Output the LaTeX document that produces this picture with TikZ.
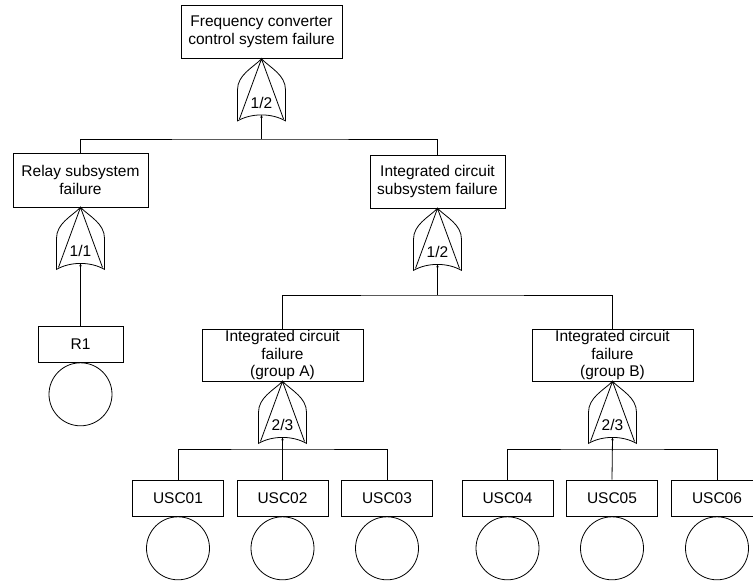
\documentclass[tikz,border=0pt]{standalone}
\usepackage{fontspec}
\setmainfont{Liberation Sans}
\usepackage{tikz}
\usetikzlibrary{calc}
\usetikzlibrary{positioning}
\usetikzlibrary{arrows.meta}

\tikzset{
  event/.style={draw, align=center, inner sep=0pt},
  basic/.style={draw, circle, minimum size=63pt, inner sep=0pt},
  gatein/.style={-{Stealth[length=3pt,width=2.5pt]}},
  pics/kofn/.style={code={
    \draw (0,0) .. controls (-9,9) and (-24,16) .. (-24,31) -- (-24,62)
          .. controls (-10,54) and (10,54) .. (24,62) -- (24,31)
          .. controls (24,16) and (9,9) .. (0,0);
    \draw (-22,60) -- (0,0) -- (22,60);
    \node at (0,44) {#1};
    \coordinate (-in) at (0,56);
  }}
}

\begin{document}
\begin{tikzpicture}[x=1pt,y=-1pt,line width=0.8pt,font=\fontsize{15.5}{17.5}\selectfont]
            \useasboundingbox (0,0) rectangle (753,581);

            % intermediate events
            \node[event,minimum width=161pt,minimum height=53pt] (top) at (261.5,32) {Frequency converter\\control system failure};
            \node[event,minimum width=135pt,minimum height=54pt] (relay) at (80.5,180) {Relay subsystem\\failure};
            \node[event,minimum width=135pt,minimum height=53pt] (icsub) at (437.5,181.5) {Integrated circuit\\subsystem failure};
            \node[event,minimum width=161pt,minimum height=52pt] (grpA) at (282.5,355) {Integrated circuit\\failure\\(group A)};
            \node[event,minimum width=161pt,minimum height=52pt] (grpB) at (612.5,355) {Integrated circuit\\failure\\(group B)};

            % voting gates
            \pic (g0) at (top.south) {kofn={1/2}};
            \pic (gR) at (relay.south) {kofn={1/1}};
            \pic (g1) at (icsub.south) {kofn={1/2}};
            \pic (gA) at (grpA.south) {kofn={2/3}};
            \pic (gB) at (grpB.south) {kofn={2/3}};

            % basic events
            \node[event,minimum width=85pt,minimum height=36pt] (r1) at (80.5,344) {R1};
            \node[basic,below=0pt of r1] (cr1) {};
            \foreach \i/\x in {1/178,2/282.5,3/387,4/507.5,5/612,6/717}{
              \node[event,minimum width=91pt,minimum height=36pt] (u\i) at (\x,498) {USC0\i};
              \node[basic,below=0pt of u\i] (c\i) {};
            }

            \coordinate (b0) at (261.5,139);
            \coordinate (b1) at (437.5,295);
            \coordinate (bA) at (282.5,449);
            \coordinate (bB) at (612.5,449);

            \draw (relay.north) |- (b0) -| (icsub.north);
            \draw[gatein] (b0) -- (g0-in);
            \draw[gatein] (r1.north) -- (gR-in);
            \draw (grpA.north) |- (b1) -| (grpB.north);
            \draw[gatein] (b1) -- (g1-in);
            \draw (u1.north) |- (bA) -| (u3.north);
            \draw[gatein] (u2.north) -- (gA-in);
            \draw (u4.north) |- (bB) -| (u6.north);
            \draw[gatein] (u5.north) -- (gB-in);

        \end{tikzpicture}
\end{document}
